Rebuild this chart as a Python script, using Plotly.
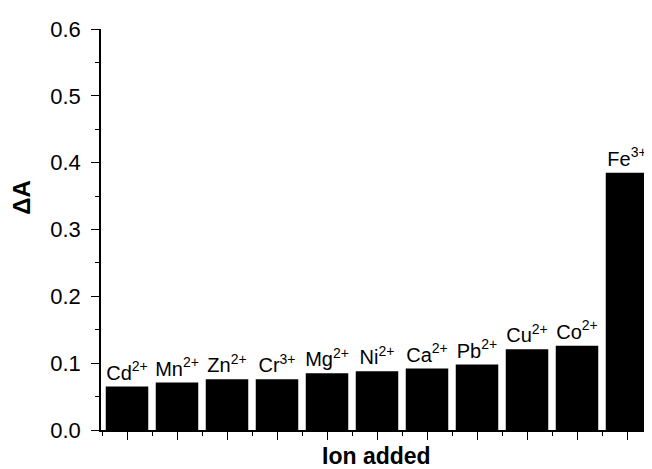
import plotly.graph_objects as go

ions = ["Cd", "Mn", "Zn", "Cr", "Mg", "Ni", "Ca", "Pb", "Cu", "Co", "Fe"]
charges = ["2+", "2+", "2+", "3+", "2+", "2+", "2+", "2+", "2+", "2+", "3+"]
delta_a = [0.065, 0.071, 0.076, 0.076, 0.085, 0.088, 0.092, 0.098, 0.121, 0.126, 0.385]
y_ticks = [0.0, 0.1, 0.2, 0.3, 0.4, 0.5, 0.6]

labels = [f"{i}<sup>{c}</sup>" for i, c in zip(ions, charges)]
xpos = list(range(len(ions)))

font = "Liberation Sans, Arial, sans-serif"

fig = go.Figure(go.Bar(
    x=xpos, y=delta_a, width=0.85,
    marker=dict(color="black", line=dict(color="black", width=0)),
    text=labels, textposition="outside", cliponaxis=False,
    constraintext="none",
    textfont=dict(family=font, size=20, color="black"),
))

# page body adds an 8px offset at top/left, so the figure is sized to fit the window
fig.update_layout(
    width=644, height=461,
    margin=dict(l=93, r=0, t=21, b=39, autoexpand=False),
    paper_bgcolor="white", plot_bgcolor="white",
    showlegend=False,
    font=dict(family=font, color="black"),
    xaxis=dict(
        range=[-0.52, 10.5], showgrid=False, zeroline=False, automargin=False,
        showline=True, linecolor="black", linewidth=1.5,
        tickmode="array", tickvals=xpos, ticktext=[""] * len(xpos),
        ticks="outside", ticklen=8, tickwidth=1.3, tickcolor="black",
        minor=dict(tickvals=[x - 0.5 for x in xpos] + [xpos[-1] + 0.5],
                   ticks="outside", ticklen=4, tickwidth=1.3, tickcolor="black"),
    ),
    yaxis=dict(
        range=[0, 0.6], showgrid=False, zeroline=False, automargin=False,
        showline=True, linecolor="black", linewidth=1.5,
        tickvals=y_ticks, tickformat=".1f",
        ticks="outside", ticklen=8, tickwidth=1.3, tickcolor="black",
        ticklabelstandoff=6,
        tickfont=dict(size=22, family=font),
        minor=dict(dtick=0.05, ticks="outside", ticklen=4, tickwidth=1.3, tickcolor="black"),
    ),
    annotations=[
        dict(text="<b>Ion added</b>", xref="paper", yref="paper",
             x=0.5, y=0.0, yshift=-26, xanchor="center", yanchor="middle",
             showarrow=False, font=dict(size=23, family=font, color="black")),
        dict(text="<b>ΔA</b>", xref="paper", yref="paper",
             x=0, xshift=-79, y=0.579, xanchor="center", yanchor="middle",
             textangle=-90, showarrow=False,
             font=dict(size=24, family=font, color="black")),
    ],
)

fig.write_html("out.html")
